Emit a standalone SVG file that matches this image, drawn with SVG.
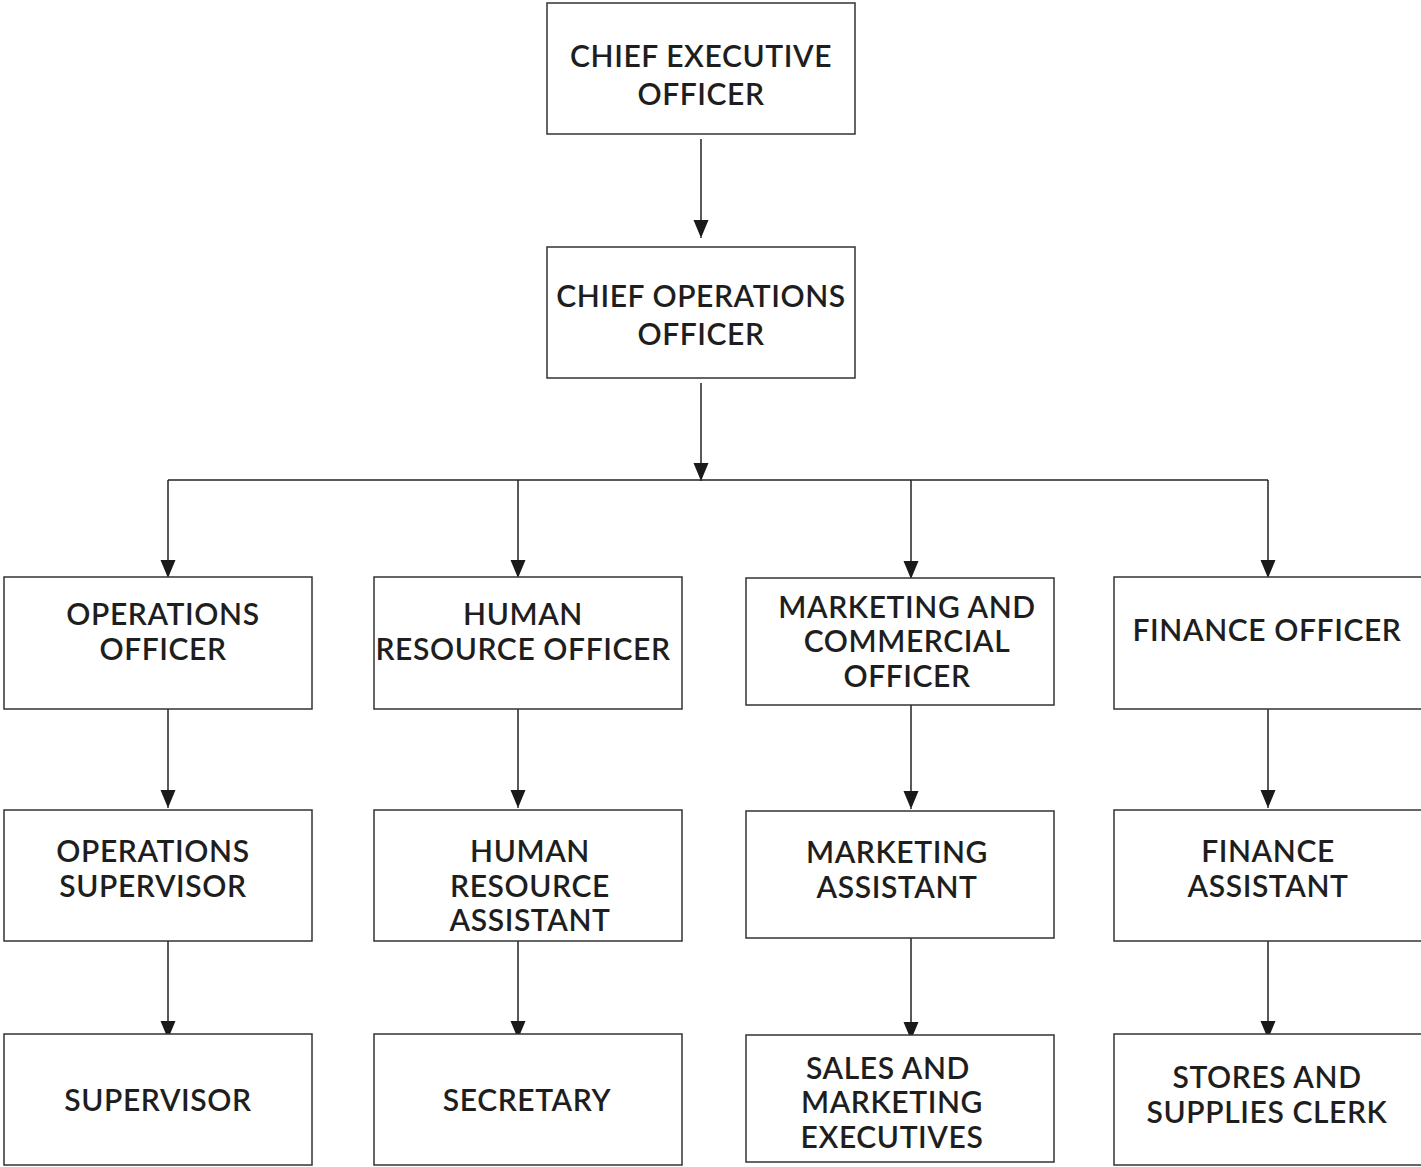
<svg xmlns="http://www.w3.org/2000/svg" width="1421" height="1167" viewBox="0 0 1421 1167">
<defs>
<marker id="ah" markerWidth="16" markerHeight="18" refX="18" refY="7.5" orient="auto" markerUnits="userSpaceOnUse">
<path d="M0,0 L18,7.5 L0,15 Z" fill="#1a1a1a"/>
</marker>
<style>
.box{fill:#fff;stroke:#333;stroke-width:1.5}
.t{font-family:"Lato","Open Sans",sans-serif;font-size:30px;fill:#1e1e1e;text-anchor:middle;font-weight:600;letter-spacing:0.6px}
.c{fill:none;stroke:#222;stroke-width:1.5}
</style>
</defs>
<rect width="1421" height="1167" fill="#fff"/>
<g id="connectors">
<path class="c" d="M701,139 V238" marker-end="url(#ah)"/>
<path class="c" d="M701,383 V481" marker-end="url(#ah)"/>
<path class="c" d="M168,480 H1268"/>
<path class="c" d="M168,480 V578" marker-end="url(#ah)"/>
<path class="c" d="M518,480 V578" marker-end="url(#ah)"/>
<path class="c" d="M911,480 V579" marker-end="url(#ah)"/>
<path class="c" d="M1268,480 V578" marker-end="url(#ah)"/>
<path class="c" d="M168,709 V808" marker-end="url(#ah)"/>
<path class="c" d="M518,709 V808" marker-end="url(#ah)"/>
<path class="c" d="M911,705 V809" marker-end="url(#ah)"/>
<path class="c" d="M1268,709 V808" marker-end="url(#ah)"/>
<path class="c" d="M168,941 V1039" marker-end="url(#ah)"/>
<path class="c" d="M518,941 V1039" marker-end="url(#ah)"/>
<path class="c" d="M911,938 V1040" marker-end="url(#ah)"/>
<path class="c" d="M1268,941 V1039" marker-end="url(#ah)"/>
</g>
<g id="ceo"><rect class="box" x="547" y="3" width="308" height="131"/>
<text class="t" x="701" y="67">CHIEF EXECUTIVE</text><text class="t" x="701" y="105">OFFICER</text></g>
<g id="coo"><rect class="box" x="547" y="247" width="308" height="131"/>
<text class="t" x="701" y="307">CHIEF OPERATIONS</text><text class="t" x="701" y="345">OFFICER</text></g>
<g id="ops-officer"><rect class="box" x="4" y="577" width="308" height="132"/>
<text class="t" x="163" y="625">OPERATIONS</text><text class="t" x="163" y="660">OFFICER</text></g>
<g id="hr-officer"><rect class="box" x="374" y="577" width="308" height="132"/>
<text class="t" x="523" y="625">HUMAN</text><text class="t" x="523" y="660">RESOURCE OFFICER</text></g>
<g id="mkt-officer"><rect class="box" x="746" y="578" width="308" height="127"/>
<text class="t" x="907" y="618">MARKETING AND</text><text class="t" x="907" y="652">COMMERCIAL</text><text class="t" x="907" y="687">OFFICER</text></g>
<g id="fin-officer"><rect class="box" x="1114" y="577" width="320" height="132"/>
<text class="t" x="1267" y="641">FINANCE OFFICER</text></g>
<g id="ops-supervisor"><rect class="box" x="4" y="810" width="308" height="131"/>
<text class="t" x="153" y="862">OPERATIONS</text><text class="t" x="153" y="897">SUPERVISOR</text></g>
<g id="hr-assistant"><rect class="box" x="374" y="810" width="308" height="131"/>
<text class="t" x="530" y="862">HUMAN</text><text class="t" x="530" y="897">RESOURCE</text><text class="t" x="530" y="931">ASSISTANT</text></g>
<g id="mkt-assistant"><rect class="box" x="746" y="811" width="308" height="127"/>
<text class="t" x="897" y="863">MARKETING</text><text class="t" x="897" y="898">ASSISTANT</text></g>
<g id="fin-assistant"><rect class="box" x="1114" y="810" width="320" height="131"/>
<text class="t" x="1268" y="862">FINANCE</text><text class="t" x="1268" y="897">ASSISTANT</text></g>
<g id="supervisor"><rect class="box" x="4" y="1034" width="308" height="131"/>
<text class="t" x="158" y="1111">SUPERVISOR</text></g>
<g id="secretary"><rect class="box" x="374" y="1034" width="308" height="131"/>
<text class="t" x="527" y="1111">SECRETARY</text></g>
<g id="sales-mkt"><rect class="box" x="746" y="1035" width="308" height="127"/>
<text class="t" x="888" y="1079">SALES AND</text><text class="t" x="892" y="1113">MARKETING</text><text class="t" x="892" y="1148">EXECUTIVES</text></g>
<g id="stores-clerk"><rect class="box" x="1114" y="1034" width="320" height="131"/>
<text class="t" x="1267" y="1088">STORES AND</text><text class="t" x="1267" y="1123">SUPPLIES CLERK</text></g>
</svg>
